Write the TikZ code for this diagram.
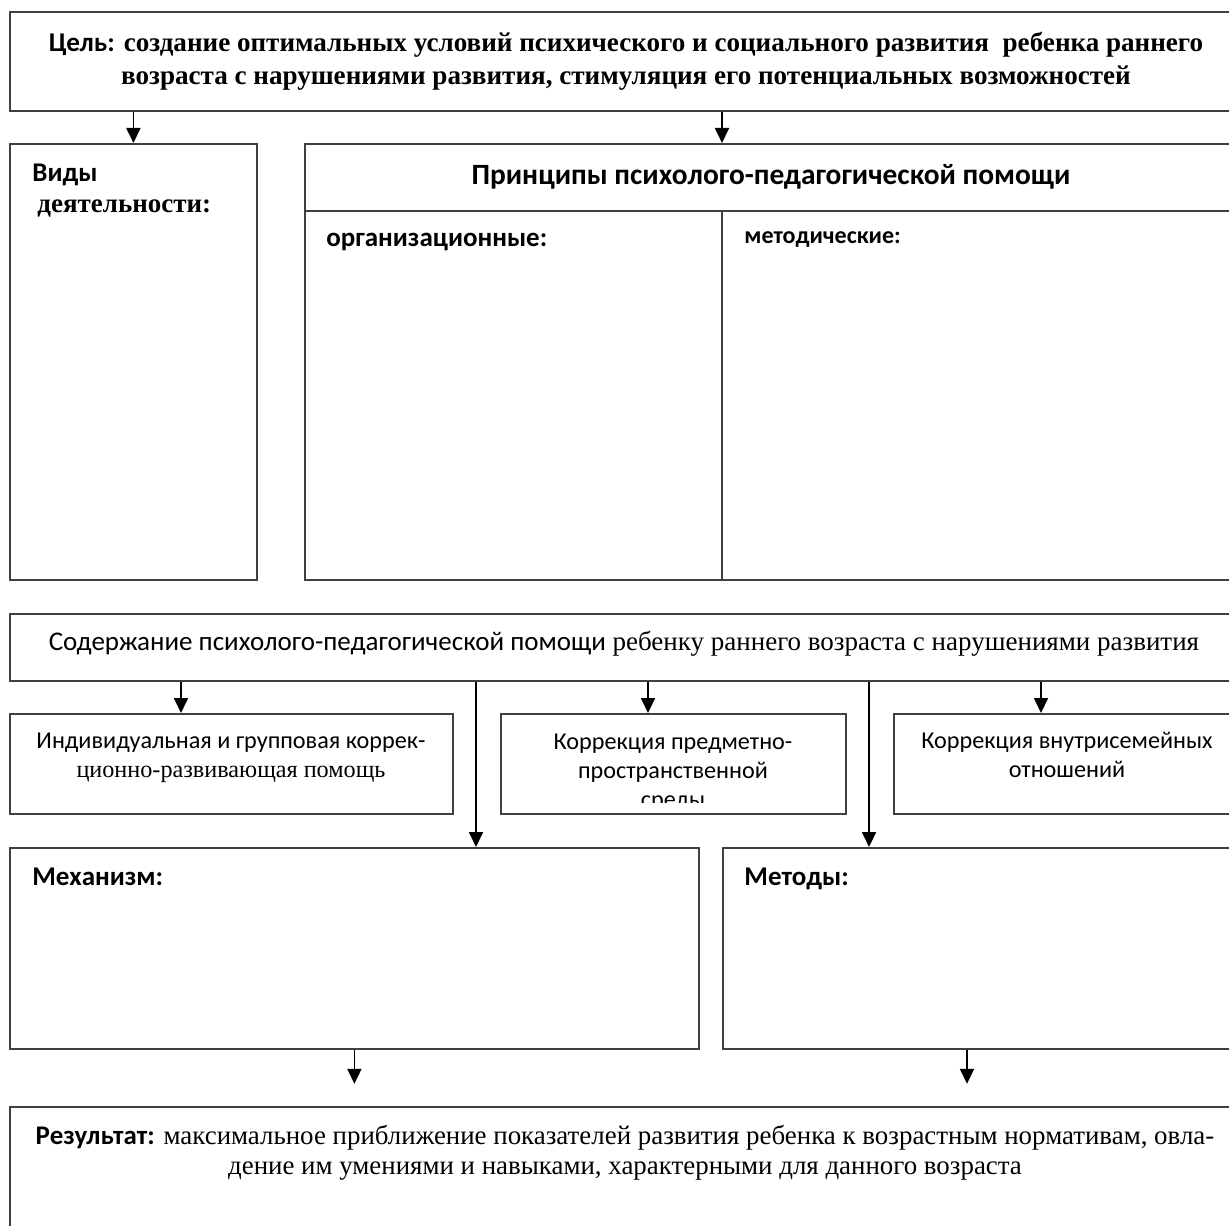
\documentclass[tikz,border=0pt]{standalone}
\usepackage{fontspec}
\setmainfont{Liberation Serif}
\newfontfamily\calibri{Carlito}
\usetikzlibrary{arrows.meta}
\usetikzlibrary{positioning}

\begin{document}
\begin{tikzpicture}[x=0.5pt,y=-0.5pt]

\tikzset{
  % frames of the scheme
  box/.style={draw=black!75, line width=0.9pt, anchor=north west, inner sep=0pt},
  % arrows between the frames
  arr/.style={-{Triangle[length=7.5pt,width=7pt]}, line width=0.9pt},
  % bold headings
  head/.style={inner sep=0pt, font=\calibri\bfseries\fontsize{13.5}{16}\selectfont},
}

\useasboundingbox (0,0) rectangle (1229,1225);
\clip (0,0) rectangle (1229,1225);

\node[box, minimum width=625.5pt, minimum height=49.5pt] (goal) at (9,11) {};
\node[box, minimum width=123.5pt, minimum height=218pt] (vid) at (9,143) {};
\node[box, minimum width=478pt, minimum height=218pt] (princ) at (304,143) {};
\node[box, minimum width=625.5pt, minimum height=33.5pt] (content) at (9,613) {};
\node[box, minimum width=221.5pt, minimum height=50pt] (ind) at (9,713) {};
\node[box, minimum width=172.5pt, minimum height=50pt] (pred) at (500,713) {};
\node[box, minimum width=183.5pt, minimum height=50pt] (fam) at (893,713) {};
\node[box, minimum width=344.5pt, minimum height=100.5pt] (mech) at (9,847) {};
\node[box, minimum width=269pt, minimum height=100.5pt] (meth) at (722,847) {};
\node[box, minimum width=625.5pt, minimum height=77pt] (res) at (9,1106) {};

% principles: header line and divider
\coordinate (divtop) at (722,211);
\coordinate (hdleft) at (304,211);
\draw[draw=black!75, line width=0.9pt] (hdleft) -- (hdleft -| princ.east);
\draw[draw=black!75, line width=0.9pt] (divtop) -- (divtop |- princ.south);

% texts
\node[align=center, inner sep=0pt, font=\bfseries\fontsize{13.55}{16.5}\selectfont] (goaltxt) at (626,61)
  {{\calibri Цель:} создание оптимальных условий психического и социального развития\ \ ребенка раннего\\
   возраста с нарушениями развития, стимуляция его потенциальных возможностей};
\node[head, anchor=west] (vidtxt) at (32,175) {Виды};
\node[inner sep=0pt, anchor=west, font=\bfseries\fontsize{13.5}{16}\selectfont] (vidtxt2) at (37,208) {деятельности:};
\node[head, font=\calibri\bfseries\fontsize{14.7}{17}\selectfont] (princtxt) at (771,177) {Принципы психолого-педагогической помощи};
\node[head, anchor=west] (orgtxt) at (326,242) {организационные:};
\node[head, anchor=west, font=\calibri\bfseries\fontsize{12}{14}\selectfont] (mettxt) at (744,240) {методические:};
\node[inner sep=0pt, font=\fontsize{13.5}{16}\selectfont] (contenttxt) at (624,644)
  {{\calibri Содержание психолого-педагогической помощи} ребенку раннего возраста с нарушениями развития};
\node[inner sep=0pt, align=center, font=\fontsize{12.1}{14.5}\selectfont] (indtxt) at (231,758)
  {{\calibri Индивидуальная и групповая коррек-}\\ционно-развивающая помощь};
\begin{scope}
  \clip (pred.north west) rectangle (845,802);
  \node[inner sep=0pt, align=center, font=\calibri\fontsize{12.1}{14.5}\selectfont] (predtxt) at (673,773)
    {Коррекция предметно-\\пространственной\\среды};
\end{scope}
\node[inner sep=0pt, align=center, font=\calibri\fontsize{12.1}{14.5}\selectfont] (famtxt) at (1067,755)
  {Коррекция внутрисемейных\\отношений};
\node[head, anchor=west] (mechtxt) at (32,877) {Механизм:};
\node[head, anchor=west] (methtxt) at (744,879) {Методы:};
\node[inner sep=0pt, align=center, font=\fontsize{13.45}{15}\selectfont] (restxt) at (625,1153)
  {{\calibri\bfseries Результат:} максимальное приближение показателей развития ребенка к возрастным нормативам, овла-\\
   дение им умениями и навыками, характерными для данного возраста};

% arrows
\coordinate (c1) at (181,0);
\coordinate (c2) at (476,0);
\coordinate (c3) at (648,0);
\coordinate (c4) at (869,0);
\coordinate (c5) at (1041,0);
\coordinate (c6) at (967,0);
\draw[arr] (goal.south -| vid.north) -- (vid.north);
\draw[arr] (goal.south -| divtop) -- (princ.north -| divtop);
\draw[arr] (content.south -| c1) -- (ind.north -| c1);
\draw[arr] (content.south -| c2) -- (mech.north -| c2);
\draw[arr] (content.south -| c3) -- (pred.north -| c3);
\draw[arr] (content.south -| c4) -- (meth.north -| c4);
\draw[arr] (content.south -| c5) -- (fam.north -| c5);
\draw[arr] (mech.south) -- ++(0,34);
\draw[arr] (meth.south -| c6) -- ++(0,34);

\end{tikzpicture}
\end{document}
